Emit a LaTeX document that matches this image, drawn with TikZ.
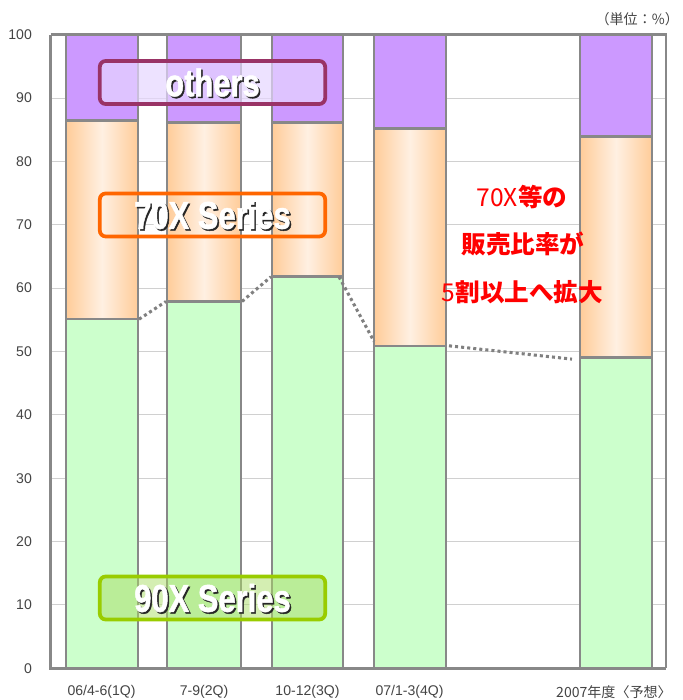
\documentclass[tikz,border=0pt]{standalone}
\usepackage{fontspec}
\setmainfont{Liberation Sans}
\newfontfamily\jpfont{Noto Sans CJK JP}
\newfontfamily\boxfont[FakeStretch=0.8, UprightFont={Liberation Sans Bold}, FakeBold=1.2]{Liberation Sans}

\definecolor{axisgray}{HTML}{888888}
\definecolor{gridgray}{HTML}{D0D0D0}
\definecolor{trendgray}{HTML}{808080}
\definecolor{textgray}{HTML}{444444}
\definecolor{barpurple}{HTML}{CC99FF}
\definecolor{barpeach}{HTML}{FFCC99}
\definecolor{barcream}{HTML}{FFF0E2}
\definecolor{bargreen}{HTML}{CCFFCC}
\definecolor{othersedge}{HTML}{993366}
\definecolor{othersfill}{HTML}{E6D6FF}
\definecolor{seventyedge}{HTML}{FF6600}
\definecolor{ninetyedge}{HTML}{99CC00}
\definecolor{ninetyfill}{HTML}{AADD66}

\begin{document}
\begin{tikzpicture}[x=0.03cm, y=0.19008cm,
  barline/.style={draw=axisgray, line width=2.2pt},
  gridline/.style={draw=gridgray, line width=0.8pt},
  trend/.style={draw=trendgray, line width=2.6pt, dash pattern=on 2.6pt off 2.6pt},
  seriesbox/.style={rounded corners=5pt, line width=3.2pt, minimum width=6.76cm, minimum height=1.29cm},
  boxtext/.style={text=white, font=\boxfont\fontsize{33}{33}\selectfont},
  boxshadow/.style={text=black!85, font=\boxfont\fontsize{33}{33}\selectfont},
  ticklabel/.style={text=textgray, font=\fontsize{12}{12}\selectfont, anchor=east},
  catlabel/.style={text=textgray, font=\fontsize{12}{12}\selectfont},
  notetext/.style={text=red, font=\jpfont\fontsize{21}{21}\selectfont}]

\useasboundingbox (0,-5) rectangle (683,105.48);

\foreach \y in {10,20,...,90} {
  \draw[gridline] (50.7,\y) -- (666,\y);
}


\fill[fill=bargreen] ( 66, 0) -- (138, 0) -- (138,55.1) -- ( 66,55.1) -- cycle;
\fill[fill=bargreen] (167, 0) -- (241, 0) -- (241,57.9) -- (167,57.9) -- cycle;
\fill[fill=bargreen] (272, 0) -- (343, 0) -- (343,61.8) -- (272,61.8) -- cycle;
\fill[fill=bargreen] (374, 0) -- (446, 0) -- (446,50.9) -- (374,50.9) -- cycle;
\fill[fill=bargreen] (580, 0) -- (652, 0) -- (652,49.1) -- (580,49.1) -- cycle;

\shade[left color=barpeach, right color=barpeach, middle color=barcream] ( 66,55.1) -- (138,55.1) -- (138,86.5) -- ( 66,86.5) -- cycle;
\shade[left color=barpeach, right color=barpeach, middle color=barcream] (167,57.9) -- (241,57.9) -- (241,86.1) -- (167,86.1) -- cycle;
\shade[left color=barpeach, right color=barpeach, middle color=barcream] (272,61.8) -- (343,61.8) -- (343,86.1) -- (272,86.1) -- cycle;
\shade[left color=barpeach, right color=barpeach, middle color=barcream] (374,50.9) -- (446,50.9) -- (446,85.2) -- (374,85.2) -- cycle;
\shade[left color=barpeach, right color=barpeach, middle color=barcream] (580,49.1) -- (652,49.1) -- (652,83.9) -- (580,83.9) -- cycle;

\fill[fill=barpurple] ( 66,86.5) -- (138,86.5) -- (138,100) -- ( 66,100) -- cycle;
\fill[fill=barpurple] (167,86.1) -- (241,86.1) -- (241,100) -- (167,100) -- cycle;
\fill[fill=barpurple] (272,86.1) -- (343,86.1) -- (343,100) -- (272,100) -- cycle;
\fill[fill=barpurple] (374,85.2) -- (446,85.2) -- (446,100) -- (374,100) -- cycle;
\fill[fill=barpurple] (580,83.9) -- (652,83.9) -- (652,100) -- (580,100) -- cycle;


\foreach \l/\r/\g/\o in {66/138/55.1/86.5, 167/241/57.9/86.1, 272/343/61.8/86.1, 374/446/50.9/85.2, 580/652/49.1/83.9} {
  \draw[barline] (\l,0) rectangle (\r,100);
  \draw[barline] (\l,\g) -- (\r,\g);
  \draw[barline] (\l,\o) -- (\r,\o);
}

\draw[axisgray, line width=2.2pt] (50.7,100) -- (666,100) -- (666,0);
\draw[axisgray, line width=2.6pt] (50.7,100) -- (50.7,0) -- (666,0);

\coordinate (g1 right) at (139,55.1);
\coordinate (g2 left)  at (166,57.9);
\coordinate (g2 right) at (242,57.9);
\coordinate (g3 left)  at (271,61.8);
\coordinate (g3 right) at (339,61.8);
\coordinate (g4 left)  at (374,51.6);
\coordinate (g4 right) at (449,50.9);
\coordinate (g5 left)  at (572,48.8);

\draw[trend] (g1 right) -- (g2 left);
\draw[trend] (g2 right) -- (g3 left);
\draw[trend] (g3 right) -- (g4 left);
\draw[trend] (g4 right) -- (g5 left);

\node[seriesbox, draw=othersedge, fill=othersfill, fill opacity=0.7] (others box) at (212.5,92.46) {};
\node[seriesbox, draw=seventyedge] (seventy box) at (212.5,71.55) {};
\node[seriesbox, draw=ninetyedge, fill=ninetyfill, fill opacity=0.5] (ninety box) at (212.5,11.1) {};

\node[boxshadow] (others shadow)  at ([shift={(1.6,-0.26)}]others box.center)  {others};
\node[boxtext]   (others label)   at (others box.center)  {others};
\node[boxshadow] (seventy shadow) at ([shift={(1.6,-0.26)}]seventy box.center) {70X Series};
\node[boxtext]   (seventy label)  at (seventy box.center) {70X Series};
\node[boxshadow] (ninety shadow)  at ([shift={(1.6,-0.26)}]ninety box.center)  {90X Series};
\node[boxtext]   (ninety label)   at (ninety box.center)  {90X Series};

\node[notetext] (note one)   at (522,74.4) {70X{\bfseries 等の}};
\node[notetext] (note two)   at (523,66.9) {\bfseries 販売比率が};
\node[notetext] (note three) at (522.5,59.3) {5{\bfseries 割以上へ拡大}};

\foreach \v in {0,10,...,100} {
  \node[ticklabel] (tick \v) at (36,\v) {\v};
}

\node[catlabel] (cat one)   at (101.5,-3.74) {06/4-6(1Q)};
\node[catlabel] (cat two)   at (204,-3.74)   {7-9(2Q)};
\node[catlabel] (cat three) at (307.5,-3.74) {10-12(3Q)};
\node[catlabel] (cat four)  at (409.5,-3.74) {07/1-3(4Q)};
\node[catlabel] (cat five)  at (614,-3.74)   {\jpfont 2007年度〈予想〉};

\node[catlabel, anchor=east] (unit) at (683,102.5) {\jpfont （単位：\%）};

\end{tikzpicture}
\end{document}
